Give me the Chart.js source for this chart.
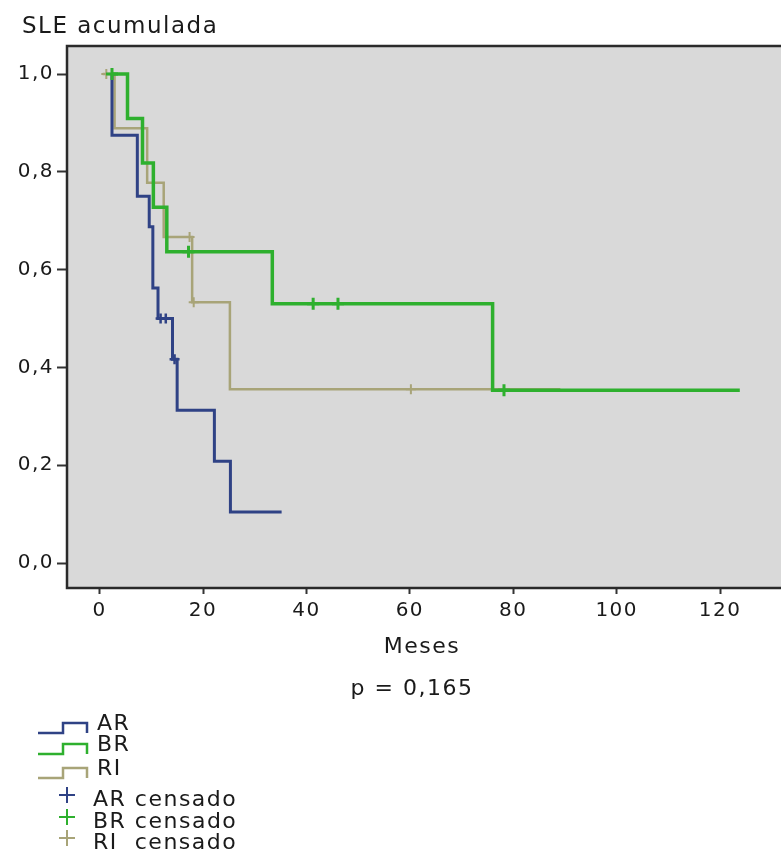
<!DOCTYPE html>
<html><head><meta charset="utf-8">
<script src="https://cdn.jsdelivr.net/npm/chart.js@4/dist/chart.umd.min.js"></script>
<style>html,body{margin:0;padding:0;background:#fff;overflow:hidden;width:781px;height:852px}canvas{display:block}</style>
</head><body>
<canvas id="c" width="800" height="852"></canvas>
<script>
// ---- texts ----
const yAxisTitle = 'SLE acumulada';
const xAxisTitle = 'Meses';
const pValueText = 'p = 0,165';
const xTicks = [0, 20, 40, 60, 80, 100, 120];
const yTicks = [0, 0.2, 0.4, 0.6, 0.8, 1.0];
const groupLabels = ['AR', 'BR', 'RI'];
const censorLabels = ['AR censado', 'BR censado', 'RI  censado'];

// ---- Kaplan-Meier steps (time in months, cumulative survival) ----
const arTimes = [2.4, 2.4, 7.3, 9.6, 10.3, 11.3, 14.1, 15.0, 22.2, 25.3, 35.2];
const arSurv  = [1.0, 0.875, 0.75, 0.6875, 0.5625, 0.5, 0.4167, 0.3125, 0.2083, 0.1042, 0.1042];
const arCensorTimes = [11.8, 12.8, 14.5];
const arCensorSurv  = [0.5, 0.5, 0.4167];

const brTimes = [2.4, 5.4, 8.3, 10.4, 13.0, 33.4, 76.0, 123.8];
const brSurv  = [1.0, 0.9091, 0.8182, 0.7273, 0.6364, 0.5303, 0.3535, 0.3535];
const brCensorTimes = [2.4, 17.2, 41.3, 46.1, 78.2];
const brCensorSurv  = [1.0, 0.6364, 0.5303, 0.5303, 0.3535];

const riTimes = [0.6, 2.9, 9.2, 12.4, 17.9, 25.2, 89.1];
const riSurv  = [1.0, 0.8889, 0.7778, 0.6667, 0.5333, 0.3556, 0.3556];
const riCensorTimes = [1.3, 17.4, 18.2, 60.2];
const riCensorSurv  = [1.0, 0.6667, 0.5333, 0.3556];

// ---- styles ----
const colAR = '#2f4285', colBR = '#2eb02e', colRI = '#a8a478';
const LS = '1.5px';
const FONT = 'DejaVu Sans';

const pts = (t, s) => t.map((x, i) => ({x: x, y: s[i]}));

const lineDs = (label, t, s, color, w, order) => ({
  label, data: pts(t, s), showLine: true, stepped: 'before',
  borderColor: color, backgroundColor: color, borderWidth: w,
  pointRadius: 0, pointHoverRadius: 0, fill: false, order,
  borderJoinStyle: 'miter'
});
const censorDs = (label, t, s, color, r, w) => ({
  label, data: pts(t, s), showLine: false,
  pointStyle: 'cross', pointRadius: r, pointBorderWidth: w,
  borderColor: color, backgroundColor: color, order: 0
});

const frame = {
  id: 'frame',
  beforeUpdate(c) { c.ctx.letterSpacing = LS; },
  beforeLayout(c) { c.ctx.letterSpacing = LS; },
  beforeDraw(c) {
    const {ctx, chartArea: a} = c;
    ctx.letterSpacing = LS;
    ctx.save();
    ctx.fillStyle = '#d9d9d9';
    ctx.fillRect(a.left, a.top, a.right - a.left, a.bottom - a.top);
    ctx.restore();
  },
  afterDraw(c) {
    const {ctx, chartArea: a} = c;
    ctx.save();
    ctx.letterSpacing = LS;
    ctx.strokeStyle = '#2a2a2a';
    ctx.lineWidth = 2.5;
    ctx.strokeRect(a.left, a.top, a.right - a.left, a.bottom - a.top);
    ctx.fillStyle = '#1a1a1a';
    ctx.textBaseline = 'alphabetic';
    ctx.textAlign = 'left';
    ctx.font = '23px "' + FONT + '"';
    ctx.fillText(yAxisTitle, 22, 33);
    ctx.textAlign = 'center';
    ctx.font = '22px "' + FONT + '"';
    ctx.fillText(xAxisTitle, 422, 653);
    ctx.fillText(pValueText, 412, 695);
    // legend
    const ds = c.data.datasets;
    ctx.textAlign = 'left';
    ctx.font = '22px "' + FONT + '"';
    const rowY = [728, 749, 773];
    for (let i = 0; i < 3; i++) {
      const y = rowY[i];
      ctx.strokeStyle = ds[i].borderColor;
      ctx.lineWidth = 2.5;
      ctx.beginPath();
      ctx.moveTo(38, y + 5); ctx.lineTo(63, y + 5); ctx.lineTo(63, y - 5);
      ctx.lineTo(87, y - 5); ctx.lineTo(87, y + 5);
      ctx.stroke();
      ctx.fillText(ds[i].label, 97, y + 2);
    }
    const crossY = [795, 817, 838];
    for (let i = 0; i < 3; i++) {
      const d = ds[3 + i], y = crossY[i];
      ctx.strokeStyle = d.borderColor;
      ctx.lineWidth = 2;
      ctx.beginPath();
      ctx.moveTo(59, y); ctx.lineTo(75, y);
      ctx.moveTo(67, y - 8); ctx.lineTo(67, y + 8);
      ctx.stroke();
      ctx.fillText(d.label, 93, y + 11);
    }
    ctx.restore();
  }
};

new Chart(document.getElementById('c'), {
  type: 'scatter',
  data: {
    datasets: [
      lineDs(groupLabels[0], arTimes, arSurv, colAR, 3, 2),
      lineDs(groupLabels[1], brTimes, brSurv, colBR, 3.5, 1),
      lineDs(groupLabels[2], riTimes, riSurv, colRI, 2.5, 3),
      censorDs(censorLabels[0], arCensorTimes, arCensorSurv, colAR, 5, 2.5),
      censorDs(censorLabels[1], brCensorTimes, brCensorSurv, colBR, 6, 3),
      censorDs(censorLabels[2], riCensorTimes, riCensorSurv, colRI, 5, 2)
    ]
  },
  options: {
    responsive: false,
    animation: false,
    devicePixelRatio: 1,
    layout: {padding: {top: 46, bottom: 154, left: 0, right: 0}},
    plugins: {legend: {display: false}, tooltip: {enabled: false}, title: {display: false}},
    scales: {
      x: {
        type: 'linear', min: -6.3, max: 133.7,
        afterBuildTicks: s => { s.ticks = xTicks.map(v => ({value: v})); },
        afterFit: s => { s.height = 110; },
        border: {display: false},
        grid: {display: true, drawOnChartArea: false, drawTicks: true, tickLength: 6, tickWidth: 2, tickColor: '#333'},
        ticks: {color: '#1a1a1a', font: {family: FONT, size: 20}, padding: 5, maxRotation: 0, autoSkip: false}
      },
      y: {
        type: 'linear', min: -0.0511, max: 1.0573,
        afterBuildTicks: s => { s.ticks = yTicks.map(v => ({value: v})); },
        afterFit: s => { s.width = 67; },
        border: {display: false},
        grid: {display: true, drawOnChartArea: false, drawTicks: true, tickLength: 10, tickWidth: 2, tickColor: '#333'},
        ticks: {color: '#1a1a1a', font: {family: FONT, size: 20}, padding: 3,
          callback: v => v.toFixed(1).replace('.', ',')}
      }
    }
  },
  plugins: [frame]
});
</script>
</body></html>
